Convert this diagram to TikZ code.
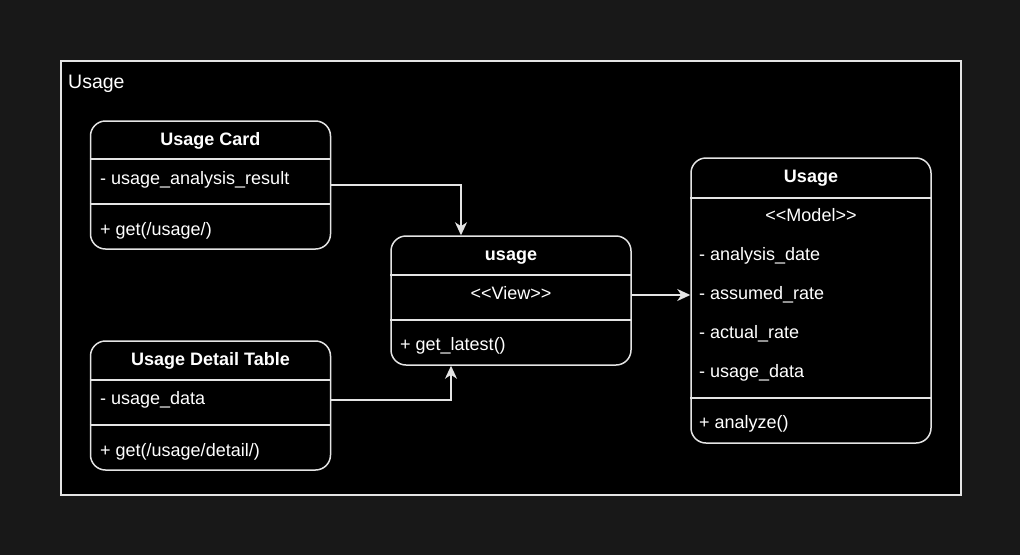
\documentclass[tikz,border=0pt]{standalone}
\usepackage{fontspec}
\setmainfont{Liberation Sans}
\usetikzlibrary{arrows.meta}
\definecolor{canvas}{RGB}{24,24,24}
\definecolor{edge}{RGB}{228,228,228}

\begin{document}
\begin{tikzpicture}[x=1pt,y=-1pt,font=\fontsize{18}{22}\selectfont,
	classbox/.style={draw=edge,fill=black,rounded corners=15pt,line width=1.5pt,minimum width=240pt,inner sep=0pt},
	title/.style={anchor=base,font=\fontsize{18}{22}\selectfont\bfseries,text=white},
	row/.style={anchor=base west,text=white,inner sep=0pt},
	stereo/.style={anchor=base,text=white,inner sep=0pt},
	divider/.style={draw=edge,line width=1.5pt},
	link/.style={draw=edge,line width=1.5pt,-{Stealth[length=13pt,width=12pt,inset=4pt]}}]
				\fill[canvas] (0,0) rectangle (1020,555);
				\useasboundingbox (0,0) rectangle (1020,555);
				% package frame
				\node[draw=edge,fill=black,line width=1.5pt,minimum width=900pt,minimum height=434pt,inner sep=0pt] (frame) at (511,278) {};
				\node[row,font=\fontsize{19.5}{23}\selectfont] (framelabel) at (68,88) {Usage};
				% boxes
				\node[classbox,minimum height=128pt] (card) at (210.5,185) {};
				\node[classbox,minimum height=129pt] (detail) at (210.5,405.5) {};
				\node[classbox,minimum height=129pt] (view) at (511,300.5) {};
				\node[classbox,minimum height=285pt] (model) at (811,300.5) {};
				% dividers
				\draw[divider] (card.west |- 0,159) -- (card.east |- 0,159);
				\draw[divider] (card.west |- 0,204) -- (card.east |- 0,204);
				\draw[divider] (detail.west |- 0,380) -- (detail.east |- 0,380);
				\draw[divider] (detail.west |- 0,425) -- (detail.east |- 0,425);
				\draw[divider] (view.west |- 0,275) -- (view.east |- 0,275);
				\draw[divider] (view.west |- 0,320) -- (view.east |- 0,320);
				\draw[divider] (model.west |- 0,198) -- (model.east |- 0,198);
				\draw[divider] (model.west |- 0,398) -- (model.east |- 0,398);
				% texts
				\node[title] (cardtitle) at (210.5,145) {Usage Card};
				\node[row] (cardattr) at (100,184) {- usage\_analysis\_result};
				\node[row] (cardop) at (100,235) {+ get(/usage/)};
				\node[title] (detailtitle) at (210.5,365) {Usage Detail Table};
				\node[row] (detailattr) at (100,404) {- usage\_data};
				\node[row] (detailop) at (100,456) {+ get(/usage/detail/)};
				\node[title] (viewtitle) at (511,260) {usage};
				\node[stereo] (viewstereo) at (511,299.5) {<{}<View>{}>};
				\node[row] (viewop) at (400,350) {+ get\_latest()};
				\node[title] (modeltitle) at (811,182.5) {Usage};
				\node[stereo] (modelstereo) at (811,221.5) {<{}<Model>{}>};
				\node[row] (modeldate) at (699,260.5) {- analysis\_date};
				\node[row] (modelassumed) at (699,299.5) {- assumed\_rate};
				\node[row] (modelactual) at (699,338) {- actual\_rate};
				\node[row] (modeldata) at (699,377) {- usage\_data};
				\node[row] (modelop) at (699,428.5) {+ analyze()};
				% connectors
				\draw[link] (card.east) -| ([xshift=-50pt]view.north);
				\draw[link] ([yshift=5.5pt]detail.east) -| ([xshift=-60pt]view.south);
				\draw[link] ([yshift=5.5pt]view.east) -- ([yshift=5.5pt]model.west);
\end{tikzpicture}
\end{document}
